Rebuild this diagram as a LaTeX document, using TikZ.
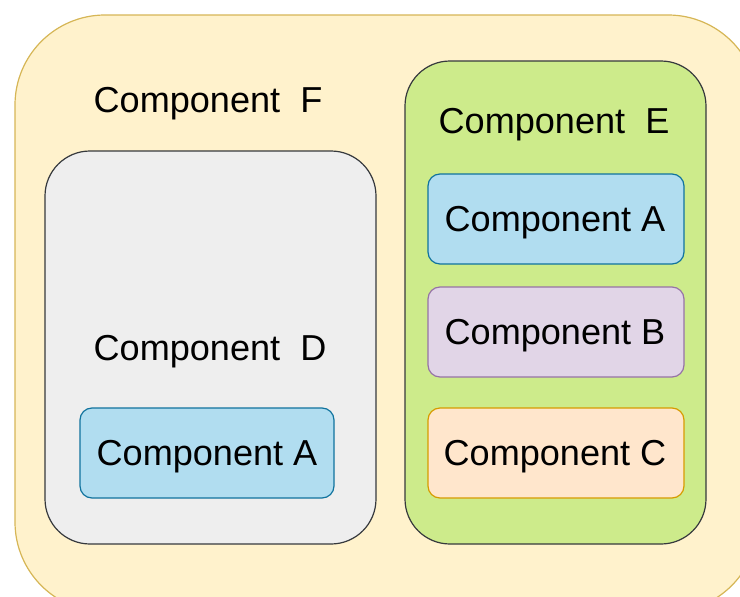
\documentclass[tikz,border=0pt]{standalone}
\usepackage{fontspec}
\setmainfont{Liberation Sans}
\definecolor{fYellow}{HTML}{FFF2CC}\definecolor{sYellow}{HTML}{D6B656}
\definecolor{fGray}{HTML}{EEEEEE}\definecolor{sDark}{HTML}{36393D}
\definecolor{fGreen}{HTML}{CDEB8B}
\definecolor{fBlue}{HTML}{B1DDF0}\definecolor{sBlue}{HTML}{10739E}
\definecolor{fPurple}{HTML}{E1D5E7}\definecolor{sPurple}{HTML}{9673A6}
\definecolor{fOrange}{HTML}{FFE6CC}\definecolor{sOrange}{HTML}{D79B00}
\begin{document}
\begin{tikzpicture}[x=1pt,y=-1pt,
  lbl/.style={font=\fontsize{36.1}{40}\selectfont, inner sep=0pt},
  comp/.style={draw=#1, line width=1.2pt, rounded corners=12pt},
  group/.style={draw=sDark, line width=1.2pt, rounded corners=45pt}]
\useasboundingbox (0,0) rectangle (740,597);
\clip (0,0) rectangle (740,597);
% outer container F
\filldraw[fill=fYellow, draw=sYellow, line width=1.2pt, rounded corners=90pt] (15,15) rectangle (758,612);
\node[lbl] (tF) at (208,104) {Component\ \ F};
% container D
\filldraw[group, fill=fGray] (45,151) rectangle (376,544);
\node[lbl] (tD) at (210,352) {Component\ \ D};
\filldraw[comp=sBlue, fill=fBlue] (80,408) rectangle (334,498);
\node[lbl] (aD) at (207,457) {Component A};
% container E
\filldraw[group, fill=fGreen] (405,61) rectangle (706,544);
\node[lbl] (tE) at (554,125) {Component\ \ E};
\filldraw[comp=sBlue, fill=fBlue] (428,174) rectangle (684,264);
\node[lbl] (aE) at (555,223) {Component A};
\filldraw[comp=sPurple, fill=fPurple] (428,287) rectangle (684,377);
\node[lbl] (bE) at (555,336) {Component B};
\filldraw[comp=sOrange, fill=fOrange] (428,408) rectangle (684,498);
\node[lbl] (cE) at (555,457) {Component C};
\end{tikzpicture}
\end{document}
